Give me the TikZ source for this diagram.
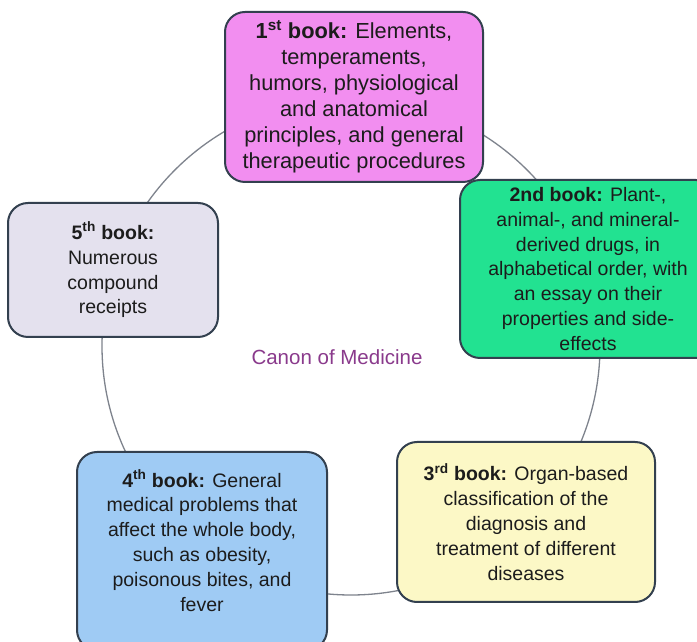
\documentclass[tikz,border=0pt]{standalone}
\usepackage{fontspec}
\setmainfont{Liberation Sans}
\usetikzlibrary{shapes}

\definecolor{bookone}{HTML}{F28EF0}
\definecolor{booktwo}{HTML}{22E291}
\definecolor{bookthree}{HTML}{FCF8C6}
\definecolor{bookfour}{HTML}{9FCBF4}
\definecolor{bookfive}{HTML}{E4E1EE}
\definecolor{boxline}{HTML}{33404F}
\definecolor{ringgray}{HTML}{7E838D}
\definecolor{canontext}{HTML}{8A3A8C}
\definecolor{textdark}{HTML}{1C1C1C}

\begin{document}
\begin{tikzpicture}[line join=bevel,
  bookbox/.style={draw=boxline,line width=2bp,rounded corners=20bp,align=center,
    inner sep=4bp,text=textdark,font=\fontsize{19.5bp}{24.8bp}\selectfont},
  ringline/.style={draw=ringgray,line width=1.3bp},
]
%%
\clip (0bp,0bp) rectangle (697bp,642bp);
\fill [white] (0bp,0bp) rectangle (697bp,642bp);
\coordinate (hub) at (351bp,296bp);
\draw [ringline] (hub) circle (249bp);
%
\node (book_1) at (354bp,545bp) [bookbox,fill=bookone,minimum width=258bp,minimum height=170bp,
    font=\fontsize{21.8bp}{26bp}\selectfont]
  {\textbf{1\textsuperscript{st} book:} Elements,\\temperaments,\\humors, physiological\\and anatomical\\principles, and general\\therapeutic procedures};
  \node (book_2) at (588bp,373bp) [bookbox,fill=booktwo,minimum width=256bp,minimum height=178bp]
  {\textbf{2nd book:} Plant-,\\animal-, and mineral-\\derived drugs, in\\alphabetical order, with\\an essay on their\\properties and side-\\effects};
  \node (book_3) at (526bp,120bp) [bookbox,fill=bookthree,minimum width=258bp,minimum height=160bp]
  {\textbf{3\textsuperscript{rd} book:} Organ-based\\classification of the\\diagnosis and\\treatment of different\\diseases};
  \node (book_4) at (202bp,91bp) [bookbox,fill=bookfour,minimum width=250bp,minimum height=198bp,text depth=21bp]
  {\textbf{4\textsuperscript{th} book:} General\\medical problems that\\affect the whole body,\\such as obesity,\\poisonous bites, and\\fever};
  \node (book_5) at (113bp,372bp) [bookbox,fill=bookfive,minimum width=210bp,minimum height=134bp]
  {\textbf{5\textsuperscript{th} book:}\\Numerous\\compound\\receipts};
  \node (canon) at (337bp,285bp) [text=canontext,font=\fontsize{20.5bp}{24bp}\selectfont] {Canon of Medicine};
%
\end{tikzpicture}
\end{document}
